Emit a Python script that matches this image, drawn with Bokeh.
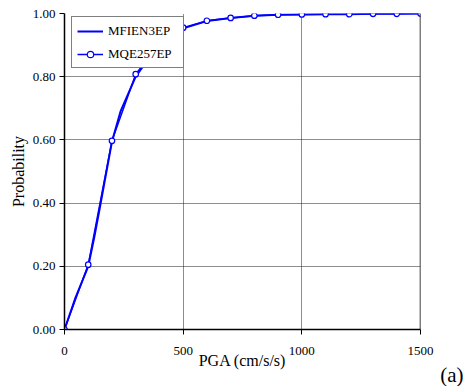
from bokeh.plotting import figure
from bokeh.models import (Range1d, FixedTicker, NumeralTickFormatter, Span, Title,
                          Legend, LegendItem)
from bokeh.embed import file_html
from bokeh.resources import INLINE

# ---- data ----
mfien3ep_pga = [0, 46, 100, 125, 150, 200, 236, 300, 400, 500, 600, 700, 800, 900, 1000, 1100, 1200, 1300, 1400, 1500]
mfien3ep_prob = [0.0, 0.10, 0.20, 0.29, 0.39, 0.595, 0.69, 0.80, 0.905, 0.953, 0.976, 0.986, 0.993, 0.996, 0.997, 0.998, 0.998, 0.999, 0.999, 1.0]

mqe257ep_pga = [0, 100, 200, 300, 400, 500, 600, 700, 800, 900, 1000, 1100, 1200, 1300, 1400, 1500]
mqe257ep_prob = [0.0, 0.205, 0.597, 0.808, 0.905, 0.955, 0.977, 0.986, 0.993, 0.996, 0.997, 0.998, 0.998, 0.999, 0.999, 1.0]

x_ticks = [0, 500, 1000, 1500]
y_ticks = [0.0, 0.2, 0.4, 0.6, 0.8, 1.0]

FONT = "Liberation Serif"
BLUE = "#0000FF"

p = figure(width=468, height=386, output_backend="svg", toolbar_location=None,
           x_range=Range1d(0, 1500), y_range=Range1d(0, 1.0),
           min_border_left=64, min_border_right=48, min_border_top=13, min_border_bottom=57)
p.outline_line_color = None
p.background_fill_color = "white"
p.border_fill_color = "white"

l1 = p.line(mfien3ep_pga, mfien3ep_prob, line_color=BLUE, line_width=2)
l2 = p.line(mqe257ep_pga, mqe257ep_prob, line_color=BLUE, line_width=1.5)
s2 = p.scatter(mqe257ep_pga, mqe257ep_prob, marker="circle", size=5.5,
               line_color=BLUE, fill_color="white", line_width=1.2)

p.add_layout(Span(location=1500, dimension="height", line_color="black", line_width=1.5))

# axes
p.xaxis.ticker = FixedTicker(ticks=x_ticks)
p.yaxis.ticker = FixedTicker(ticks=y_ticks)
p.yaxis.formatter = NumeralTickFormatter(format="0.00")
for ax in (p.xaxis[0], p.yaxis[0]):
    ax.axis_line_color = "black"
    ax.axis_line_width = 1.5
    ax.major_tick_line_color = "black"
    ax.major_tick_out = 5
    ax.major_tick_in = 0
    ax.minor_tick_line_color = None
    ax.major_label_text_font = FONT
    ax.major_label_text_font_size = "13px"
    ax.major_label_text_color = "black"
    ax.axis_label_text_font = FONT
    ax.axis_label_text_font_style = "normal"
    ax.axis_label_text_font_size = "16px"
    ax.axis_label_text_color = "black"

p.xaxis.axis_label = "PGA (cm/s/s)"
p.xaxis.major_label_standoff = 12
p.xaxis.axis_label_standoff = -6
p.yaxis.major_label_standoff = 4

# y axis title, a little below the frame centre as in the reference
p.add_layout(Title(text="Probability", align="center", offset=-8, standoff=6,
                   text_font=FONT, text_font_size="16px", text_font_style="normal",
                   text_color="black"), "left")

# panel tag "(a)" at the bottom right, below the axis
p.add_layout(Title(text="(a)", align="right", offset=-43, standoff=-21,
                   text_font=FONT, text_font_size="21px", text_font_style="normal",
                   text_color="black"), "below")

# grid
for g in (p.xgrid[0], p.ygrid[0]):
    g.grid_line_color = "#1a1a1a"
    g.grid_line_dash = "1 1"
    g.grid_line_width = 1
p.xgrid.ticker = FixedTicker(ticks=[500, 1000])
p.ygrid.ticker = FixedTicker(ticks=[0.2, 0.4, 0.6, 0.8, 1.0])

legend = Legend(items=[LegendItem(label="MFIEN3EP", renderers=[l1]),
                       LegendItem(label="MQE257EP", renderers=[l2, s2])],
                location=(7, 261), orientation="vertical",
                border_line_color="black", border_line_width=1,
                background_fill_color="white", background_fill_alpha=1.0,
                label_text_font=FONT, label_text_font_size="13px",
                label_text_color="black",
                glyph_width=26, glyph_height=16, label_standoff=5, label_width=70,
                padding=5, spacing=6, label_height=17, margin=0)
p.add_layout(legend, "center")

open("out.html", "w").write(file_html(p, INLINE))
